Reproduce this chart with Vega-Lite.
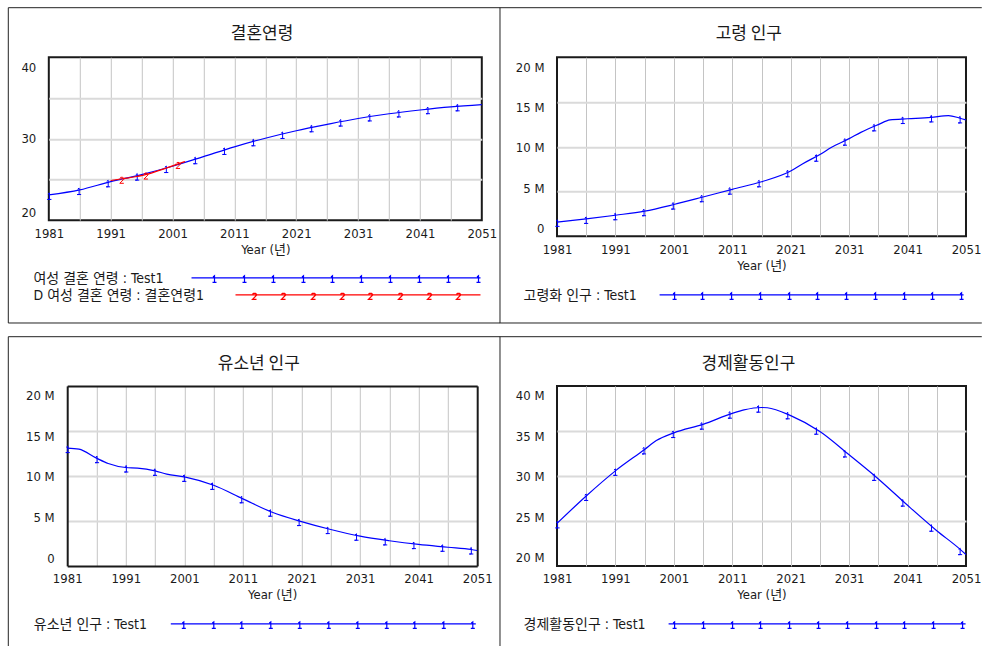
{
  "$schema": "https://vega.github.io/schema/vega-lite/v6.json",
  "background": "white",
  "padding": {"left": 6.8, "top": 6.2, "right": 0, "bottom": 0},
  "config": {
    "font": "DejaVu Sans Condensed, DejaVu Sans, Noto Sans CJK KR",
    "view": {"stroke": "#1a1a1a", "strokeWidth": 2},
    "axis": {
      "labelFont": "DejaVu Sans Condensed, DejaVu Sans, Noto Sans CJK KR",
      "labelFontSize": 13,
      "labelColor": "#1a1a1a",
      "titleFont": "DejaVu Sans Condensed, DejaVu Sans, Noto Sans CJK KR",
      "titleFontSize": 13,
      "titleFontWeight": "normal",
      "titleColor": "#1a1a1a",
      "domain": false,
      "domainColor": "#1a1a1a",
      "domainWidth": 2,
      "ticks": false,
      "tickSize": 0,
      "labelFlush": false,
      "grid": true
    },
    "axisX": {"gridWidth": 1, "labelPadding": 7, "titlePadding": 3},
    "axisY": {"gridWidth": 2, "labelPadding": 13},
    "legend": {
      "orient": "none",
      "labelFont": "DejaVu Sans Condensed, DejaVu Sans, Noto Sans CJK KR",
      "labelFontSize": 14,
      "labelColor": "#1a1a1a",
      "labelLimit": 0,
      "labelOffset": -14,
      "symbolOffset": 0,
      "symbolSize": 4,
      "symbolStrokeWidth": 1.5,
      "symbolFillColor": "transparent",
      "padding": 0,
      "rowPadding": 3
    },
    "line": {"interpolate": "monotone", "strokeWidth": 1.2},
    "point": {"opacity": 1}
  },
  "datasets": {
    "ageModel": [
      {"year": 1981, "age": 23.1}, {"year": 1986, "age": 23.72}, {"year": 1991, "age": 24.74},
      {"year": 1996, "age": 25.6}, {"year": 2001, "age": 26.62}, {"year": 2006, "age": 27.8},
      {"year": 2011, "age": 29.0}, {"year": 2016, "age": 30.06}, {"year": 2021, "age": 30.98},
      {"year": 2026, "age": 31.76}, {"year": 2031, "age": 32.48}, {"year": 2036, "age": 33.06},
      {"year": 2041, "age": 33.52}, {"year": 2046, "age": 33.9}, {"year": 2051, "age": 34.17}
    ],
    "ageModelMarks": [
      {"year": 1981.1, "age": 23.1}, {"year": 1985.9, "age": 23.7}, {"year": 1990.6, "age": 24.65},
      {"year": 1995.3, "age": 25.47}, {"year": 2000.0, "age": 26.4}, {"year": 2004.7, "age": 27.48},
      {"year": 2009.4, "age": 28.62}, {"year": 2014.1, "age": 29.68}, {"year": 2018.8, "age": 30.58},
      {"year": 2023.5, "age": 31.4}, {"year": 2028.2, "age": 32.1}, {"year": 2032.9, "age": 32.73},
      {"year": 2037.6, "age": 33.22}, {"year": 2042.3, "age": 33.62}, {"year": 2047.1, "age": 33.97}
    ],
    "ageData": [
      {"year": 1991, "age": 24.87}, {"year": 1993, "age": 25.1}, {"year": 1995, "age": 25.33},
      {"year": 1997, "age": 25.65}, {"year": 1999, "age": 26.15}, {"year": 2001, "age": 26.66},
      {"year": 2003, "age": 27.2}
    ],
    "ageDataMarks": [
      {"year": 1992.8, "age": 25.08}, {"year": 1996.7, "age": 25.6}, {"year": 2001.9, "age": 26.9}
    ],
    "elderly": [
      {"year": 1981, "population": 1580000}, {"year": 1986, "population": 1930000},
      {"year": 1991, "population": 2340000}, {"year": 1996, "population": 2800000},
      {"year": 2001, "population": 3540000}, {"year": 2006, "population": 4380000},
      {"year": 2011, "population": 5240000}, {"year": 2016, "population": 6080000},
      {"year": 2021, "population": 7280000}, {"year": 2023, "population": 8070000},
      {"year": 2026, "population": 9130000}, {"year": 2028, "population": 9940000},
      {"year": 2031, "population": 10900000}, {"year": 2033, "population": 11600000},
      {"year": 2036, "population": 12470000}, {"year": 2038, "population": 13000000},
      {"year": 2041, "population": 13120000}, {"year": 2045, "population": 13270000},
      {"year": 2048, "population": 13480000}, {"year": 2050, "population": 13180000},
      {"year": 2051, "population": 13000000}
    ],
    "elderlyMarks": [
      {"year": 1981.1, "population": 1600000}, {"year": 1986.0, "population": 1930000},
      {"year": 1991.0, "population": 2340000}, {"year": 1995.9, "population": 2790000},
      {"year": 2000.9, "population": 3530000}, {"year": 2005.8, "population": 4350000},
      {"year": 2010.6, "population": 5200000}, {"year": 2015.6, "population": 6020000},
      {"year": 2020.5, "population": 7140000}, {"year": 2025.4, "population": 8880000},
      {"year": 2030.3, "population": 10670000}, {"year": 2035.3, "population": 12270000},
      {"year": 2040.2, "population": 13090000}, {"year": 2045.1, "population": 13270000},
      {"year": 2050.0, "population": 13160000}
    ],
    "youth": [
      {"year": 1981, "population": 13090000}, {"year": 1983, "population": 12970000},
      {"year": 1986, "population": 11970000}, {"year": 1988, "population": 11380000},
      {"year": 1991, "population": 10930000}, {"year": 1993, "population": 10870000},
      {"year": 1996, "population": 10560000}, {"year": 1998, "population": 10200000},
      {"year": 2001, "population": 9890000}, {"year": 2006, "population": 8960000},
      {"year": 2011, "population": 7450000}, {"year": 2016, "population": 5960000},
      {"year": 2021, "population": 4920000}, {"year": 2026, "population": 4040000},
      {"year": 2031, "population": 3300000}, {"year": 2036, "population": 2790000},
      {"year": 2041, "population": 2380000}, {"year": 2046, "population": 2070000},
      {"year": 2050, "population": 1820000}, {"year": 2051, "population": 1710000}
    ],
    "youthMarks": [
      {"year": 1981.1, "population": 13090000}, {"year": 1986.1, "population": 11970000},
      {"year": 1991.1, "population": 10930000}, {"year": 1996.0, "population": 10560000},
      {"year": 2001.0, "population": 9890000}, {"year": 2005.8, "population": 9000000},
      {"year": 2010.8, "population": 7510000}, {"year": 2015.7, "population": 6020000},
      {"year": 2020.6, "population": 4980000}, {"year": 2025.5, "population": 4090000},
      {"year": 2030.4, "population": 3350000}, {"year": 2035.3, "population": 2830000},
      {"year": 2040.2, "population": 2420000}, {"year": 2045.1, "population": 2120000},
      {"year": 2050.0, "population": 1820000}
    ],
    "active": [
      {"year": 1981, "population": 24720000}, {"year": 1986, "population": 27770000},
      {"year": 1991, "population": 30560000}, {"year": 1996, "population": 32940000},
      {"year": 1998, "population": 33920000}, {"year": 2001, "population": 34780000},
      {"year": 2006, "population": 35730000}, {"year": 2011, "population": 36950000},
      {"year": 2013, "population": 37330000}, {"year": 2016, "population": 37600000},
      {"year": 2017, "population": 37570000}, {"year": 2021, "population": 36700000},
      {"year": 2026, "population": 34930000}, {"year": 2031, "population": 32340000},
      {"year": 2036, "population": 29660000}, {"year": 2041, "population": 26730000},
      {"year": 2046, "population": 23910000}, {"year": 2050, "population": 21840000},
      {"year": 2051, "population": 21260000}
    ],
    "activeMarks": [
      {"year": 1981.1, "population": 24720000}, {"year": 1986.0, "population": 27770000},
      {"year": 1991.0, "population": 30560000}, {"year": 1995.9, "population": 32940000},
      {"year": 2000.9, "population": 34760000}, {"year": 2005.8, "population": 35690000},
      {"year": 2010.6, "population": 36910000}, {"year": 2015.5, "population": 37580000},
      {"year": 2020.5, "population": 36840000}, {"year": 2025.4, "population": 35130000},
      {"year": 2030.3, "population": 32600000}, {"year": 2035.3, "population": 30000000},
      {"year": 2040.2, "population": 27140000}, {"year": 2045.1, "population": 24350000},
      {"year": 2050.0, "population": 21750000}
    ]
  },
  "columns": 2,
  "spacing": {"row": -39.3, "column": -27.8},
  "resolve": {"scale": {"color": "independent"}, "legend": {"color": "independent"}},
  "concat": [
    {
      "width": 433,
      "height": 163,
      "layer": [
        {
          "data": {"name": "ageModel"},
          "mark": {"type": "line"},
          "encoding": {
            "x": {
              "field": "year", "type": "quantitative",
              "scale": {"domain": [1981, 2051], "nice": false, "zero": false},
              "axis": {
                "orient": "bottom",
                "values": [1981, 1986, 1991, 1996, 2001, 2006, 2011, 2016, 2021, 2026, 2031, 2036, 2041, 2046, 2051],
                "labelExpr": "(datum.value - 1981) % 10 == 0 ? '' + datum.value : ''",
                "title": "Year (년)",
                "gridColor": {"condition": {"test": "datum.value == 1981 || datum.value == 2051", "value": "transparent"}, "value": "#c4c4c4"}
              }
            },
            "y": {
              "field": "age", "type": "quantitative",
              "scale": {"domain": [20, 40], "nice": false, "zero": false},
              "axis": {
                "orient": "left",
                "values": [20, 25, 30, 35, 40],
                "labelExpr": "datum.value % 10 == 0 ? '' + datum.value : ''",
                "labelOffset": {"condition": [{"test": "datum.value == 40", "value": 10}, {"test": "datum.value == 20", "value": -8}], "value": 0},
                "gridColor": {"condition": {"test": "datum.value == 20 || datum.value == 40", "value": "transparent"}, "value": "#dadada"},
                "title": null
              }
            },
            "color": {
              "datum": "여성 결혼 연령 : Test1",
              "scale": {"range": ["#0000ff"]},
              "legend": {
                "title": null, "legendX": -15.3, "legendY": 214.6,
                "symbolType": "M151,-1H440M172.5,-1.8L174,-3V3.5h-2h4M202.5,-1.8L204,-3V3.5h-2h4M231.5,-1.8L233,-3V3.5h-2h4M261.5,-1.8L263,-3V3.5h-2h4M290.5,-1.8L292,-3V3.5h-2h4M319.5,-1.8L321,-3V3.5h-2h4M348.5,-1.8L350,-3V3.5h-2h4M377.5,-1.8L379,-3V3.5h-2h4M406.5,-1.8L408,-3V3.5h-2h4M436.5,-1.8L438,-3V3.5h-2h4"
              }
            }
          }
        },
        {
          "data": {"name": "ageModelMarks"},
          "mark": {"type": "point", "shape": "M-1.5,-0.8L0,-2V4.5h-2h4", "size": 4, "filled": false, "color": "#0000ff", "strokeWidth": 1},
          "encoding": {
            "x": {"field": "year", "type": "quantitative", "scale": {"domain": [1981, 2051], "nice": false, "zero": false}, "axis": null},
            "y": {"field": "age", "type": "quantitative", "scale": {"domain": [20, 40], "nice": false, "zero": false}, "axis": null}
          }
        },
        {
          "data": {"name": "ageData"},
          "mark": {"type": "line"},
          "encoding": {
            "x": {"field": "year", "type": "quantitative", "scale": {"domain": [1981, 2051], "nice": false, "zero": false}, "axis": null},
            "y": {"field": "age", "type": "quantitative", "scale": {"domain": [20, 40], "nice": false, "zero": false}, "axis": null},
            "color": {
              "datum": "D 여성 결혼 연령 : 결혼연령1",
              "scale": {"range": ["#ff0000"]},
              "legend": {
                "title": null, "legendX": -15.3, "legendY": 231.6,
                "symbolType": "M195,-1H440M212,-1.5L213,-2.5H215L216,-1.5V-0.5L212,3.5H216M241,-1.5L242,-2.5H244L245,-1.5V-0.5L241,3.5H245M271,-1.5L272,-2.5H274L275,-1.5V-0.5L271,3.5H275M300,-1.5L301,-2.5H303L304,-1.5V-0.5L300,3.5H304M328,-1.5L329,-2.5H331L332,-1.5V-0.5L328,3.5H332M358,-1.5L359,-2.5H361L362,-1.5V-0.5L358,3.5H362M387,-1.5L388,-2.5H390L391,-1.5V-0.5L387,3.5H391M416,-1.5L417,-2.5H419L420,-1.5V-0.5L416,3.5H420"
              }
            }
          }
        },
        {
          "data": {"name": "ageDataMarks"},
          "mark": {"type": "point", "shape": "M-2,-0.5L-1,-1.5H1L2,-0.5V0.5L-2,4.5H2", "size": 4, "filled": false, "color": "#ff0000", "strokeWidth": 1},
          "encoding": {
            "x": {"field": "year", "type": "quantitative", "scale": {"domain": [1981, 2051], "nice": false, "zero": false}, "axis": null},
            "y": {"field": "age", "type": "quantitative", "scale": {"domain": [20, 40], "nice": false, "zero": false}, "axis": null}
          }
        },
        {
          "data": {"values": []},
          "mark": {"type": "point"},
          "encoding": {
            "x": {
              "datum": 0, "type": "quantitative",
              "scale": {"domain": [0, 1], "range": [-41, 450.7]},
              "axis": {"orient": "top", "offset": 50, "domain": true, "domainColor": "#222222", "domainWidth": 1, "labels": false, "grid": false, "minExtent": 0,
                "title": "결혼연령", "titleFont": "Noto Sans CJK KR", "titleFontSize": 17, "titleFontWeight": "normal", "titleColor": "#1a1a1a",
                "titleX": 212.7, "titleY": 26.5, "titleAlign": "center", "titleBaseline": "middle"}
            },
            "y": {
              "datum": 0, "type": "quantitative",
              "scale": {"domain": [0, 1], "range": [265.3, -50]},
              "axis": {"orient": "left", "offset": 41, "domain": true, "domainColor": "#222222", "domainWidth": 1, "labels": false, "grid": false, "minExtent": 0, "title": null}
            }
          }
        },
        {
          "data": {"values": []},
          "mark": {"type": "point"},
          "encoding": {
            "x": {
              "datum": 0, "type": "quantitative",
              "scale": {"domain": [0, 1], "range": [-41, 450.7]},
              "axis": {"orient": "bottom", "offset": 102.3, "domain": true, "domainColor": "#222222", "domainWidth": 1, "labels": false, "grid": false, "minExtent": 0, "title": null}
            },
            "y": {
              "datum": 0, "type": "quantitative",
              "scale": {"domain": [0, 1], "range": [265.3, -50]},
              "axis": {"orient": "right", "offset": 17.7, "domain": true, "domainColor": "#222222", "domainWidth": 1, "labels": false, "grid": false, "minExtent": 0, "title": null}
            }
          }
        }
      ],
      "resolve": {
        "scale": {"x": "independent", "y": "independent", "color": "independent"},
        "axis": {"x": "independent", "y": "independent"},
        "legend": {"color": "independent"}
      }
    },
    {
      "width": 409,
      "height": 179,
      "layer": [
        {
          "data": {"name": "elderly"},
          "mark": {"type": "line"},
          "encoding": {
            "x": {
              "field": "year", "type": "quantitative",
              "scale": {"domain": [1981, 2051], "nice": false, "zero": false},
              "axis": {
                "orient": "bottom",
                "values": [1981, 1986, 1991, 1996, 2001, 2006, 2011, 2016, 2021, 2026, 2031, 2036, 2041, 2046, 2051],
                "labelExpr": "(datum.value - 1981) % 10 == 0 ? '' + datum.value : ''",
                "title": "Year (년)",
                "gridColor": {"condition": {"test": "datum.value == 1981 || datum.value == 2051", "value": "transparent"}, "value": "#c4c4c4"}
              }
            },
            "y": {
              "field": "population", "type": "quantitative",
              "scale": {"domain": [0, 20000000], "nice": false, "zero": false},
              "axis": {
                "orient": "left",
                "values": [0, 5000000, 10000000, 15000000, 20000000],
                "labelExpr": "datum.value == 0 ? '0' : (datum.value / 1000000) + ' M'",
                "labelOffset": {"condition": [{"test": "datum.value == 20000000", "value": 10}, {"test": "datum.value == 15000000", "value": 6}, {"test": "datum.value == 10000000", "value": 1}, {"test": "datum.value == 5000000", "value": -3}], "value": -7.5},
                "gridColor": {"condition": {"test": "datum.value == 0 || datum.value == 20000000", "value": "transparent"}, "value": "#dadada"},
                "title": null
              }
            },
            "color": {
              "datum": "고령화 인구 : Test1",
              "scale": {"range": ["#0000ff"]},
              "legend": {
                "title": null, "legendX": -33.4, "legendY": 231.6,
                "symbolType": "M129,-1H433M142.5,-1.8L144,-3V3.5h-2h4M170.5,-1.8L172,-3V3.5h-2h4M199.5,-1.8L201,-3V3.5h-2h4M228.5,-1.8L230,-3V3.5h-2h4M257.5,-1.8L259,-3V3.5h-2h4M285.5,-1.8L287,-3V3.5h-2h4M314.5,-1.8L316,-3V3.5h-2h4M343.5,-1.8L345,-3V3.5h-2h4M372.5,-1.8L374,-3V3.5h-2h4M400.5,-1.8L402,-3V3.5h-2h4M429.5,-1.8L431,-3V3.5h-2h4"
              }
            }
          }
        },
        {
          "data": {"name": "elderlyMarks"},
          "mark": {"type": "point", "shape": "M-1.5,-0.8L0,-2V4.5h-2h4", "size": 4, "filled": false, "color": "#0000ff", "strokeWidth": 1},
          "encoding": {
            "x": {"field": "year", "type": "quantitative", "scale": {"domain": [1981, 2051], "nice": false, "zero": false}, "axis": null},
            "y": {"field": "population", "type": "quantitative", "scale": {"domain": [0, 20000000], "nice": false, "zero": false}, "axis": null}
          }
        },
        {
          "data": {"values": []},
          "mark": {"type": "point"},
          "encoding": {
            "x": {
              "datum": 0, "type": "quantitative",
              "scale": {"domain": [0, 1], "range": [-57.7, 424.3]},
              "axis": {"orient": "top", "offset": 50, "domain": true, "domainColor": "#222222", "domainWidth": 1, "labels": false, "grid": false, "minExtent": 0,
                "title": "고령 인구", "titleFont": "Noto Sans CJK KR", "titleFontSize": 17, "titleFontWeight": "normal", "titleColor": "#1a1a1a",
                "titleX": 191.3, "titleY": 26.5, "titleAlign": "center", "titleBaseline": "middle"}
            },
            "y": {"datum": 0, "type": "quantitative", "scale": {"domain": [0, 1]}, "axis": null}
          }
        },
        {
          "data": {"values": []},
          "mark": {"type": "point"},
          "encoding": {
            "x": {
              "datum": 0, "type": "quantitative",
              "scale": {"domain": [0, 1], "range": [-57.7, 424.3]},
              "axis": {"orient": "bottom", "offset": 86.3, "domain": true, "domainColor": "#222222", "domainWidth": 1, "labels": false, "grid": false, "minExtent": 0, "title": null}
            },
            "y": {"datum": 0, "type": "quantitative", "scale": {"domain": [0, 1]}, "axis": null}
          }
        }
      ],
      "resolve": {
        "scale": {"x": "independent", "y": "independent"},
        "axis": {"x": "independent", "y": "independent"}
      }
    },
    {
      "width": 428.4,
      "height": 180,
      "view": {"stroke": null},
      "layer": [
        {
          "data": {"name": "youth"},
          "mark": {"type": "line"},
          "encoding": {
            "x": {
              "field": "year", "type": "quantitative",
              "scale": {"domain": [1981, 2051], "nice": false, "zero": false, "range": [18.4, 428.4]},
              "axis": {
                "orient": "bottom",
                "domain": true,
                "values": [1981, 1986, 1991, 1996, 2001, 2006, 2011, 2016, 2021, 2026, 2031, 2036, 2041, 2046, 2051],
                "labelExpr": "(datum.value - 1981) % 10 == 0 ? '' + datum.value : ''",
                "title": "Year (년)",
                "gridColor": {"condition": {"test": "datum.value == 1981 || datum.value == 2051", "value": "transparent"}, "value": "#c4c4c4"}
              }
            },
            "y": {
              "field": "population", "type": "quantitative",
              "scale": {"domain": [0, 20000000], "nice": false, "zero": false},
              "axis": {
                "orient": "left",
                "offset": -18.4,
                "domain": true,
                "values": [0, 5000000, 10000000, 15000000, 20000000],
                "labelExpr": "datum.value == 0 ? '0' : (datum.value / 1000000) + ' M'",
                "labelOffset": {"condition": [{"test": "datum.value == 20000000", "value": 10}, {"test": "datum.value == 15000000", "value": 6}, {"test": "datum.value == 10000000", "value": 1}, {"test": "datum.value == 5000000", "value": -3}], "value": -7.5},
                "gridColor": {"condition": {"test": "datum.value == 0 || datum.value == 20000000", "value": "transparent"}, "value": "#dadada"},
                "title": null
              }
            },
            "color": {
              "datum": "유소년 인구 : Test1",
              "scale": {"range": ["#0000ff"]},
              "legend": {
                "title": null, "legendX": -15, "legendY": 232,
                "symbolType": "M130,-1H435M141.5,-1.8L143,-3V3.5h-2h4M171.5,-1.8L173,-3V3.5h-2h4M199.5,-1.8L201,-3V3.5h-2h4M228.5,-1.8L230,-3V3.5h-2h4M257.5,-1.8L259,-3V3.5h-2h4M286.5,-1.8L288,-3V3.5h-2h4M315.5,-1.8L317,-3V3.5h-2h4M344.5,-1.8L346,-3V3.5h-2h4M372.5,-1.8L374,-3V3.5h-2h4M401.5,-1.8L403,-3V3.5h-2h4M430.5,-1.8L432,-3V3.5h-2h4"
              }
            }
          }
        },
        {
          "data": {"name": "youthMarks"},
          "mark": {"type": "point", "shape": "M-1.5,-0.8L0,-2V4.5h-2h4", "size": 4, "filled": false, "color": "#0000ff", "strokeWidth": 1},
          "encoding": {
            "x": {
              "field": "year", "type": "quantitative",
              "scale": {"domain": [1981, 2051], "nice": false, "zero": false, "range": [18.4, 428.4]},
              "axis": {"orient": "top", "domain": true, "labels": false, "grid": false, "minExtent": 0, "title": null}
            },
            "y": {
              "field": "population", "type": "quantitative",
              "scale": {"domain": [0, 20000000], "nice": false, "zero": false},
              "axis": {"orient": "right", "domain": true, "labels": false, "grid": false, "minExtent": 0, "title": null}
            }
          }
        },
        {
          "data": {"values": []},
          "mark": {"type": "point"},
          "encoding": {
            "x": {
              "datum": 0, "type": "quantitative",
              "scale": {"domain": [0, 1], "range": [-41, 450.7]},
              "axis": {"orient": "top", "offset": 49.7, "domain": true, "domainColor": "#222222", "domainWidth": 1, "labels": false, "grid": false, "minExtent": 0,
                "title": "유소년 인구", "titleFont": "Noto Sans CJK KR", "titleFontSize": 17, "titleFontWeight": "normal", "titleColor": "#1a1a1a",
                "titleX": 209.5, "titleY": 27.3, "titleAlign": "center", "titleBaseline": "middle"}
            },
            "y": {
              "datum": 0, "type": "quantitative",
              "scale": {"domain": [0, 1], "range": [264.3, -49.7]},
              "axis": {"orient": "left", "offset": 41, "domain": true, "domainColor": "#222222", "domainWidth": 1, "labels": false, "grid": false, "minExtent": 0, "title": null}
            }
          }
        },
        {
          "data": {"values": []},
          "mark": {"type": "point"},
          "encoding": {
            "x": {"datum": 0, "type": "quantitative", "scale": {"domain": [0, 1]}, "axis": null},
            "y": {
              "datum": 0, "type": "quantitative",
              "scale": {"domain": [0, 1], "range": [264.3, -49.7]},
              "axis": {"orient": "right", "offset": 22.3, "domain": true, "domainColor": "#222222", "domainWidth": 1, "labels": false, "grid": false, "minExtent": 0, "title": null}
            }
          }
        }
      ],
      "resolve": {
        "scale": {"x": "independent", "y": "independent"},
        "axis": {"x": "independent", "y": "independent"}
      }
    },
    {
      "width": 409,
      "height": 180,
      "layer": [
        {
          "data": {"name": "active"},
          "mark": {"type": "line"},
          "encoding": {
            "x": {
              "field": "year", "type": "quantitative",
              "scale": {"domain": [1981, 2051], "nice": false, "zero": false},
              "axis": {
                "orient": "bottom",
                "values": [1981, 1986, 1991, 1996, 2001, 2006, 2011, 2016, 2021, 2026, 2031, 2036, 2041, 2046, 2051],
                "labelExpr": "(datum.value - 1981) % 10 == 0 ? '' + datum.value : ''",
                "title": "Year (년)",
                "gridColor": {"condition": {"test": "datum.value == 1981 || datum.value == 2051", "value": "transparent"}, "value": "#c4c4c4"}
              }
            },
            "y": {
              "field": "population", "type": "quantitative",
              "scale": {"domain": [20000000, 40000000], "nice": false, "zero": false},
              "axis": {
                "orient": "left",
                "values": [20000000, 25000000, 30000000, 35000000, 40000000],
                "labelExpr": "(datum.value / 1000000) + ' M'",
                "labelOffset": {"condition": [{"test": "datum.value == 40000000", "value": 10}, {"test": "datum.value == 35000000", "value": 5.5}, {"test": "datum.value == 30000000", "value": 1}, {"test": "datum.value == 25000000", "value": -3.5}], "value": -8},
                "gridColor": {"condition": {"test": "datum.value == 20000000 || datum.value == 40000000", "value": "transparent"}, "value": "#dadada"},
                "title": null
              }
            },
            "color": {
              "datum": "경제활동인구 : Test1",
              "scale": {"range": ["#0000ff"]},
              "legend": {
                "title": null, "legendX": -33.4, "legendY": 232,
                "symbolType": "M138,-1H435M142.5,-1.8L144,-3V3.5h-2h4M171.5,-1.8L173,-3V3.5h-2h4M200.5,-1.8L202,-3V3.5h-2h4M228.5,-1.8L230,-3V3.5h-2h4M257.5,-1.8L259,-3V3.5h-2h4M286.5,-1.8L288,-3V3.5h-2h4M315.5,-1.8L317,-3V3.5h-2h4M344.5,-1.8L346,-3V3.5h-2h4M372.5,-1.8L374,-3V3.5h-2h4M401.5,-1.8L403,-3V3.5h-2h4M430.5,-1.8L432,-3V3.5h-2h4"
              }
            }
          }
        },
        {
          "data": {"name": "activeMarks"},
          "mark": {"type": "point", "shape": "M-1.5,-0.8L0,-2V4.5h-2h4", "size": 4, "filled": false, "color": "#0000ff", "strokeWidth": 1},
          "encoding": {
            "x": {"field": "year", "type": "quantitative", "scale": {"domain": [1981, 2051], "nice": false, "zero": false}, "axis": null},
            "y": {"field": "population", "type": "quantitative", "scale": {"domain": [20000000, 40000000], "nice": false, "zero": false}, "axis": null}
          }
        },
        {
          "data": {"values": []},
          "mark": {"type": "point"},
          "encoding": {
            "x": {
              "datum": 0, "type": "quantitative",
              "scale": {"domain": [0, 1], "range": [-57.7, 424.3]},
              "axis": {"orient": "top", "offset": 49.7, "domain": true, "domainColor": "#222222", "domainWidth": 1, "labels": false, "grid": false, "minExtent": 0,
                "title": "경제활동인구", "titleFont": "Noto Sans CJK KR", "titleFontSize": 17, "titleFontWeight": "normal", "titleColor": "#1a1a1a",
                "titleX": 191, "titleY": 27.3, "titleAlign": "center", "titleBaseline": "middle"}
            },
            "y": {"datum": 0, "type": "quantitative", "scale": {"domain": [0, 1]}, "axis": null}
          }
        }
      ],
      "resolve": {
        "scale": {"x": "independent", "y": "independent"},
        "axis": {"x": "independent", "y": "independent"}
      }
    }
  ]
}
